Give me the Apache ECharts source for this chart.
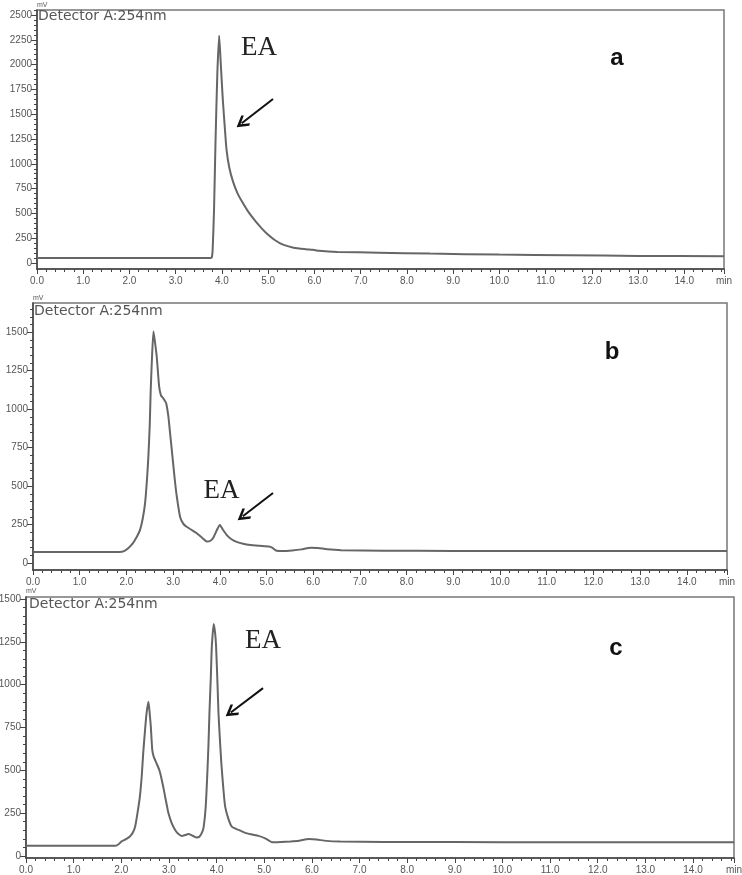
<!DOCTYPE html>
<html>
<head>
<meta charset="utf-8">
<script src="https://cdn.jsdelivr.net/npm/echarts@6/dist/echarts.min.js"></script>
<style>
  html, body { margin: 0; padding: 0; background: #fff; }
  #chart { width: 742px; height: 875px; }
</style>
</head>
<body>
<div id="chart"></div>
<script>
// ---------- data (time in min, signal in mV) ----------
const timeA = [0, 3.74, 3.78, 3.80, 3.83, 3.86, 3.90, 3.94, 3.97, 4.00, 4.02, 4.06, 4.10, 4.16, 4.24, 4.34, 4.46, 4.58, 4.72, 4.86, 5.00, 5.15, 5.32, 5.55, 5.80, 5.97, 6.10, 6.5, 7.4, 8.5, 10, 11.5, 13, 14.86];
const signalA = [50, 50, 56, 140, 550, 1200, 1900, 2290, 2050, 1800, 1640, 1380, 1140, 960, 820, 700, 600, 510, 425, 350, 285, 230, 185, 155, 140, 133, 123, 112, 104, 95, 85, 78, 72, 68];

const timeB = [0, 1.85, 1.95, 2.05, 2.14, 2.22, 2.29, 2.35, 2.40, 2.44, 2.47, 2.50, 2.52, 2.55, 2.58, 2.61, 2.65, 2.70, 2.74, 2.79, 2.85, 2.90, 2.93, 2.97, 3.00, 3.04, 3.08, 3.15, 3.22, 3.29, 3.40, 3.50, 3.62, 3.72, 3.80, 3.86, 3.93, 4.00, 4.06, 4.15, 4.25, 4.36, 4.50, 4.65, 4.85, 5.05, 5.12, 5.20, 5.35, 5.55, 5.75, 5.95, 6.10, 6.30, 6.6, 7.5, 9, 11, 13, 14.86];
const signalB = [72, 72, 78, 100, 130, 170, 214, 290, 390, 540, 690, 900, 1120, 1350, 1505, 1440, 1340, 1150, 1090, 1070, 1040, 950, 860, 740, 650, 530, 430, 300, 255, 236, 215, 195, 165, 140, 145, 165, 210, 248, 220, 182, 155, 138, 125, 117, 112, 108, 100, 82, 78, 82, 89, 100, 98, 90, 84, 80, 79, 78, 78, 78];

const timeC = [0, 1.88, 1.95, 2.00, 2.10, 2.18, 2.24, 2.29, 2.34, 2.39, 2.43, 2.46, 2.50, 2.53, 2.57, 2.60, 2.62, 2.65, 2.68, 2.74, 2.80, 2.85, 2.89, 2.92, 2.96, 2.99, 3.06, 3.13, 3.20, 3.27, 3.34, 3.41, 3.50, 3.58, 3.64, 3.70, 3.73, 3.77, 3.80, 3.83, 3.85, 3.88, 3.90, 3.94, 3.97, 3.99, 4.02, 4.04, 4.07, 4.10, 4.14, 4.18, 4.25, 4.32, 4.46, 4.60, 4.75, 4.88, 5.02, 5.10, 5.16, 5.35, 5.55, 5.73, 5.94, 6.10, 6.30, 6.6, 7.5, 9, 11, 13, 14.86];
const signalC = [60, 60, 70, 84, 98, 113, 135, 171, 250, 346, 470, 600, 740, 833, 901, 820, 755, 619, 580, 541, 500, 444, 390, 346, 290, 249, 190, 152, 128, 117, 122, 128, 118, 108, 112, 140, 171, 280, 444, 650, 833, 1050, 1222, 1355, 1300, 1222, 1000, 833, 680, 541, 400, 288, 215, 171, 152, 135, 125, 117, 103, 90, 80, 82, 85, 89, 99, 96, 88, 84, 82, 81, 80, 80, 80];

// tick labels
const xTicks = [0, 1, 2, 3, 4, 5, 6, 7, 8, 9, 10, 11, 12, 13, 14];
const yTicksA = [0, 250, 500, 750, 1000, 1250, 1500, 1750, 2000, 2250, 2500];
const yTicksB = [0, 250, 500, 750, 1000, 1250, 1500];
const yTicksC = [0, 250, 500, 750, 1000, 1250, 1500];
const panelLetters = ['a', 'b', 'c'];
const detectorText = 'Detector A:254nm';
const peakName = 'EA';

// ---------- layout / styling ----------
const X_MAX = 14.86;
const panels = [
  { grid: { left: 37, top: 10, width: 687, height: 259 }, yMin: -60, yMax: 2550, yTicks: yTicksA,
    t: timeA, v: signalA,
    ea: [4.80, 2167], arrow: [[5.105, 1653], [4.428, 1408]],
    det: [38, 17], letter: [617, 58] },
  { grid: { left: 33, top: 303, width: 694, height: 267 }, yMin: -45, yMax: 1690, yTicks: yTicksB,
    t: timeB, v: signalB,
    ea: [4.036, 470], arrow: [[5.139, 455], [4.492, 304]],
    det: [34, 312], letter: [612, 352] },
  { grid: { left: 26, top: 597, width: 708, height: 261 }, yMin: -12, yMax: 1512, yTicks: yTicksC,
    t: timeC, v: signalC,
    ea: [4.975, 1255], arrow: [[4.975, 980], [4.299, 838]],
    det: [29, 605], letter: [616, 648] }
];

const axisColor = '#444';
const labelColor = '#555';
const lineColor = '#666';
// open chevron arrow head (points "up", rotated along the line by ECharts)
const chevron = 'path://M0,0 L10,11 L7.6,13 L0,5 L-7.6,13 L-10,11 Z';

function multiples(min, max, step) {
  const out = [];
  for (let v = Math.ceil(min / step) * step; v <= max + 1e-9; v += step) out.push(v);
  return out;
}

const grids = [], xAxes = [], yAxes = [], series = [], graphics = [];

panels.forEach((p, i) => {
  grids.push(Object.assign({ show: true, borderColor: '#777', borderWidth: 1.5,
                             containLabel: false, outerBoundsMode: 'none' }, p.grid));

  xAxes.push({
    type: 'value', gridIndex: i, min: 0, max: X_MAX, interval: 1,
    axisLine: { show: true, onZero: false, lineStyle: { color: axisColor, width: 1.5 } },
    axisTick: { show: true, length: 5, lineStyle: { color: axisColor, width: 1 } },
    minorTick: { show: true, splitNumber: 5, length: 3, lineStyle: { color: axisColor, width: 1 } },
    splitLine: { show: false },
    axisLabel: {
      customValues: xTicks.concat([X_MAX]),
      formatter: v => (v > 14.5 ? 'min' : v.toFixed(1)),
      color: labelColor, fontSize: 10, fontFamily: 'Liberation Sans', margin: 7,
      hideOverlap: false
    }
  });

  yAxes.push({
    type: 'value', gridIndex: i, min: p.yMin, max: p.yMax, position: 'left',
    name: 'mV', nameLocation: 'end', nameGap: 1,
    nameTextStyle: { fontSize: 7, color: labelColor, align: 'left', verticalAlign: 'bottom', fontFamily: 'Liberation Sans' },
    axisLine: { show: true, onZero: false, lineStyle: { color: axisColor, width: 1.5 } },
    axisTick: { show: true, length: 3, customValues: multiples(0, p.yMax, 50), lineStyle: { color: axisColor } },
    splitLine: { show: false },
    axisLabel: { customValues: p.yTicks, formatter: v => String(Math.round(v)),
                 color: labelColor, fontSize: 10, fontFamily: 'Liberation Sans', margin: 5 }
  });
  yAxes.push({
    type: 'value', gridIndex: i, min: p.yMin, max: p.yMax, position: 'left',
    axisLine: { show: false },
    axisTick: { show: true, length: 6, customValues: p.yTicks, lineStyle: { color: axisColor } },
    splitLine: { show: false },
    axisLabel: { show: false }
  });

  series.push({
    type: 'line', xAxisIndex: i, yAxisIndex: 2 * i,
    data: p.t.map((t, k) => [t, p.v[k]]),
    showSymbol: false, symbol: 'none', smooth: 0.2,
    lineStyle: { color: lineColor, width: 2 },
    silent: true, animation: false,
    markPoint: {
      symbol: 'circle', symbolSize: 0, silent: true, animation: false,
      label: { show: true, position: 'inside', formatter: peakName, color: '#222',
               fontFamily: 'Liberation Serif', fontSize: 27 },
      data: [{ coord: p.ea }]
    },
    markLine: {
      silent: true, animation: false, symbol: ['none', chevron], symbolSize: 13,
      label: { show: false },
      lineStyle: { color: '#111', width: 2, type: 'solid' },
      data: [[{ coord: p.arrow[0], symbol: 'none' }, { coord: p.arrow[1], symbol: chevron, symbolSize: 13 }]]
    }
  });

  graphics.push({
    type: 'text', left: p.det[0], top: p.det[1] - 8, silent: true,
    style: { text: detectorText, fill: '#555', font: '14px "DejaVu Sans"' }
  });
  graphics.push({
    type: 'text', x: p.letter[0], y: p.letter[1], silent: true,
    style: { text: panelLetters[i], fill: '#111', font: 'bold 24px "Liberation Sans"',
             align: 'center', verticalAlign: 'middle' }
  });
});

const chart = echarts.init(document.getElementById('chart'), null, { renderer: 'canvas' });
chart.setOption({
  animation: false,
  backgroundColor: '#fff',
  grid: grids,
  xAxis: xAxes,
  yAxis: yAxes,
  series: series,
  graphic: graphics
});
</script>
</body>
</html>
